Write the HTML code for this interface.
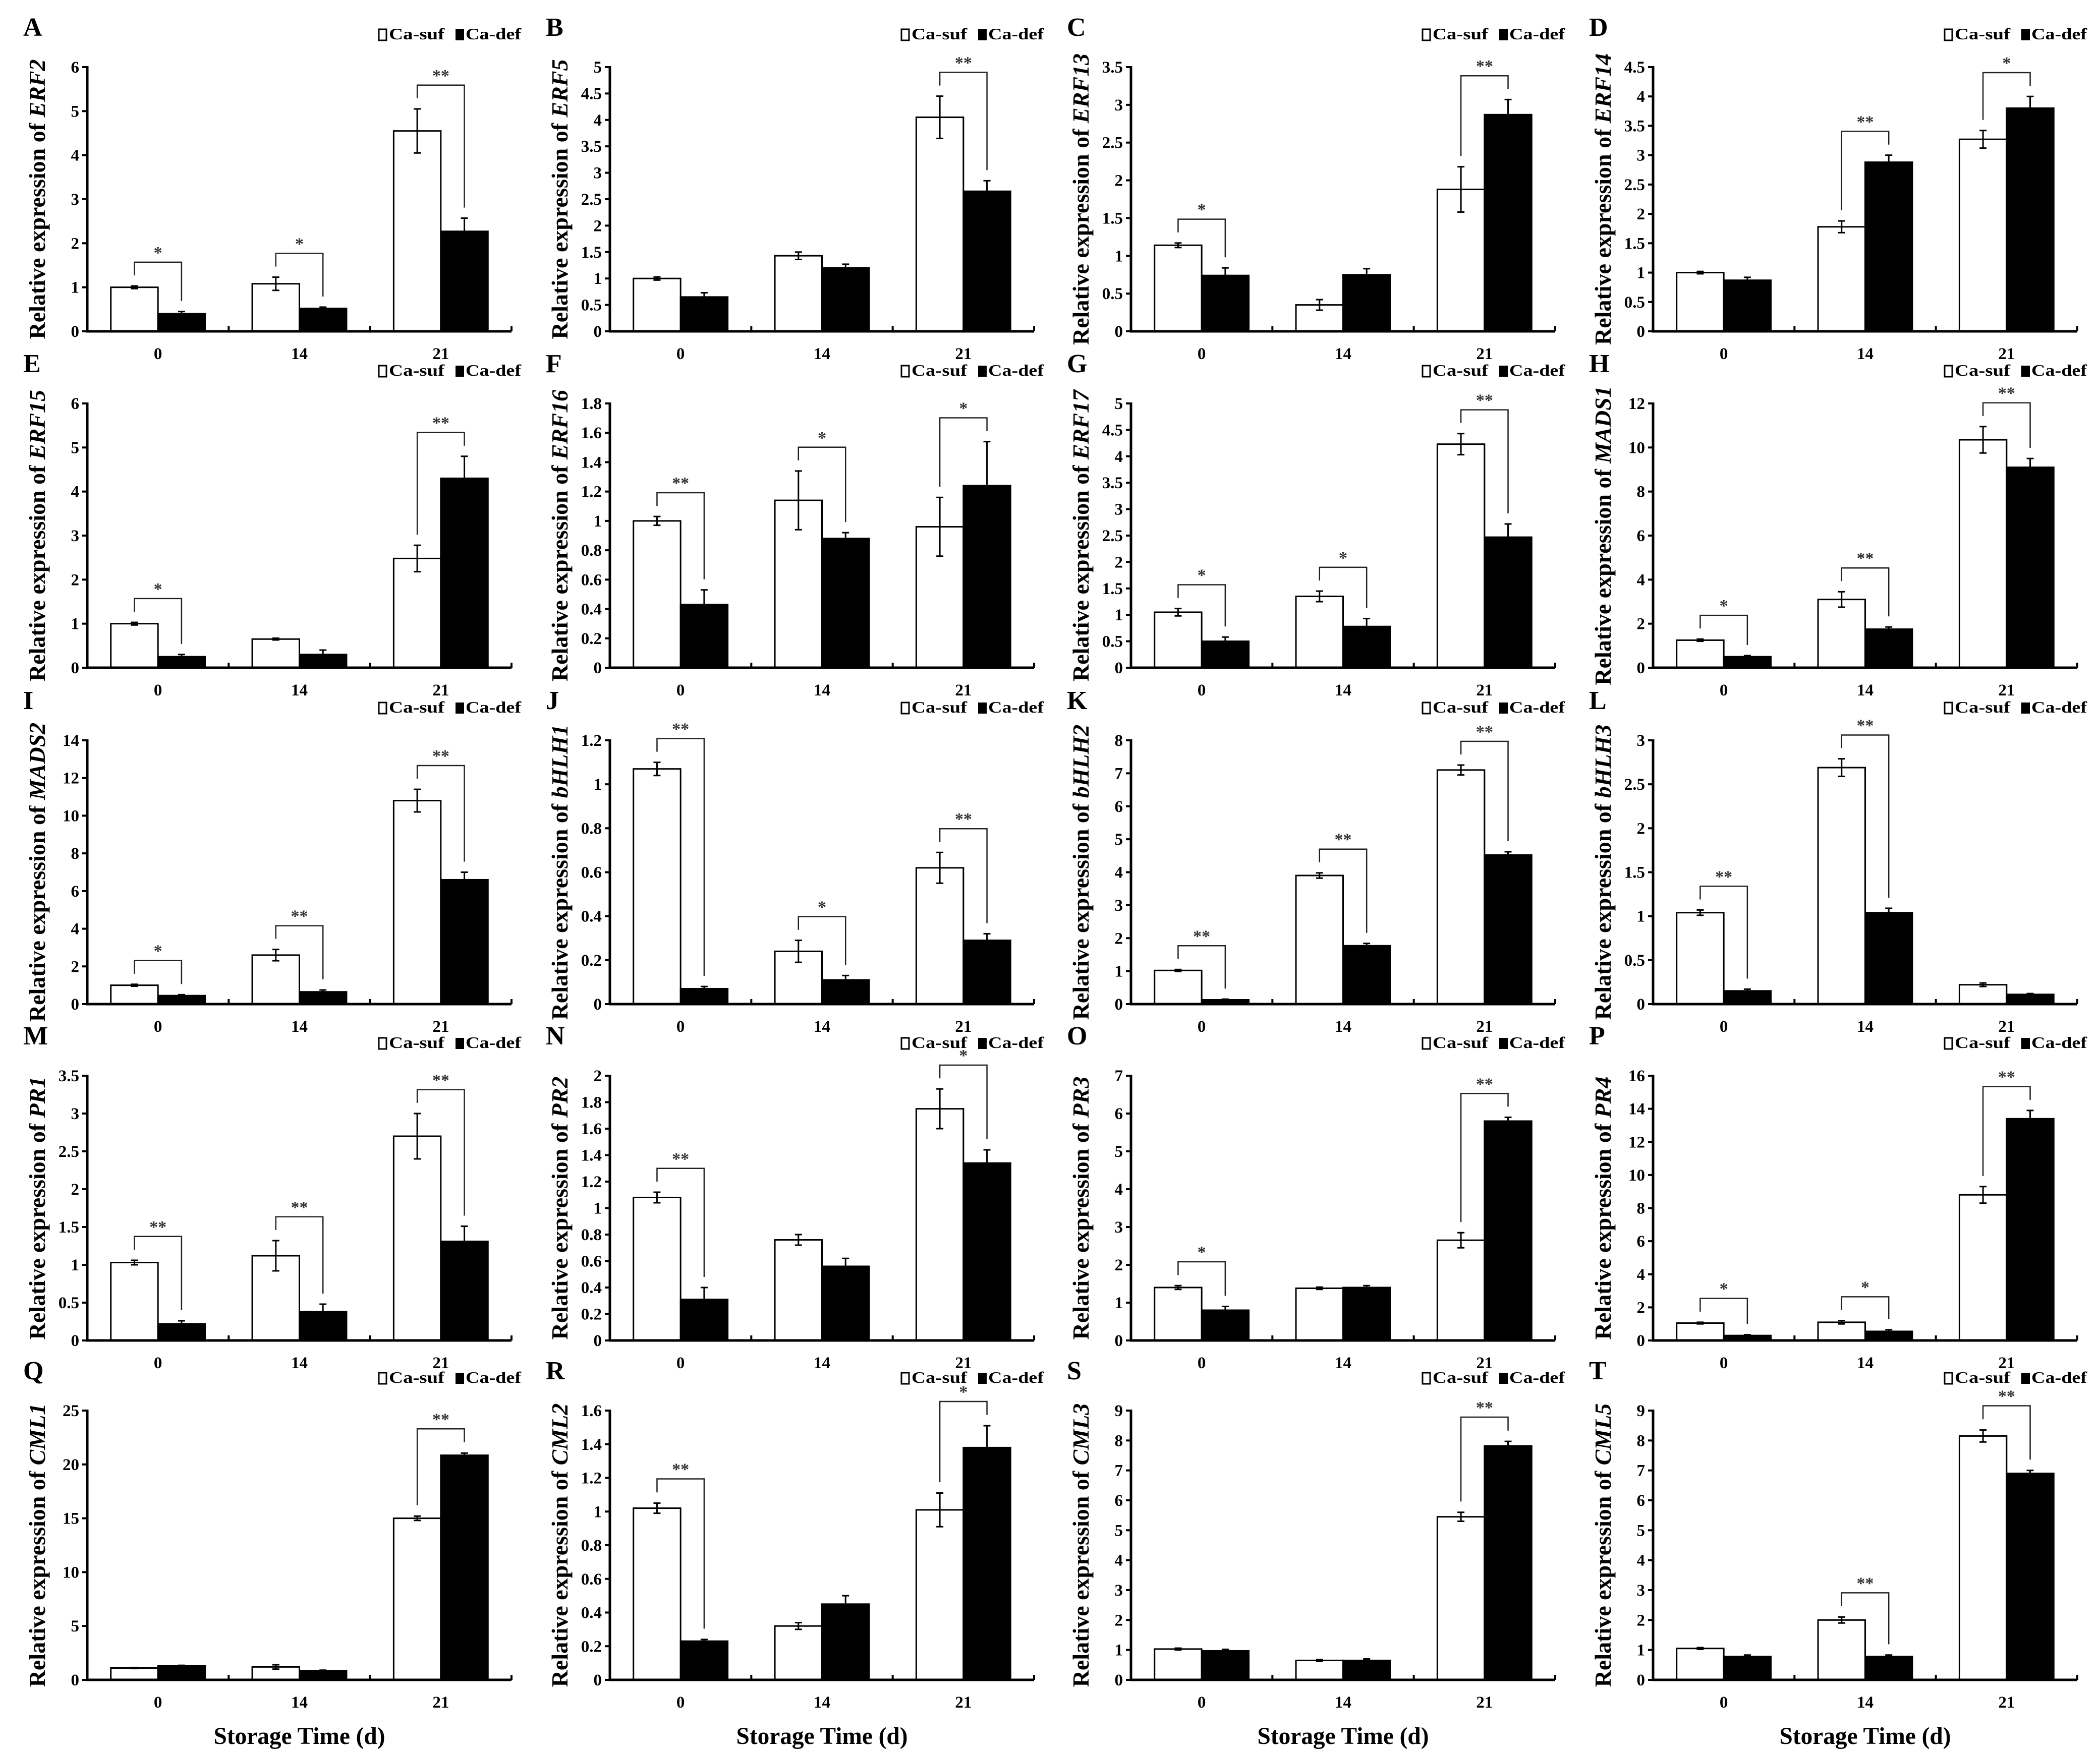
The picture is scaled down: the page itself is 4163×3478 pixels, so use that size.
<!DOCTYPE html>
<html><head><meta charset="utf-8"><style>
html,body{margin:0;padding:0;background:#fff;}
svg{display:block;font-family:"Liberation Serif",serif;font-weight:bold;}
</style></head><body>
<svg id="fig" width="4163" height="3478" viewBox="0 0 4163 3478" xmlns="http://www.w3.org/2000/svg"></svg>
<script>
const categories = ["0","14","21"];
const panelLetters = ["A","B","C","D","E","F","G","H","I","J","K","L","M","N","O","P","Q","R","S","T"];
const genes = ["ERF2","ERF5","ERF13","ERF14","ERF15","ERF16","ERF17","MADS1","MADS2","bHLH1","bHLH2","bHLH3","PR1","PR2","PR3","PR4","CML1","CML2","CML3","CML5"];
const yMax =  [6,5,3.5,4.5, 6,1.8,5,12, 14,1.2,8,3, 3.5,2,7,16, 25,1.6,9,9];
const yStep = [1,0.5,0.5,0.5, 1,0.2,0.5,2, 2,0.2,1,0.5, 0.5,0.2,1,2, 5,0.2,1,1];
const sufValues = [
 [1.0,1.08,4.55],[1.0,1.43,4.05],[1.14,0.35,1.88],[1.0,1.78,3.27],
 [1.0,0.65,2.48],[1.0,1.14,0.96],[1.05,1.35,4.23],[1.25,3.1,10.35],
 [1.0,2.6,10.8],[1.07,0.24,0.62],[1.02,3.9,7.1],[1.04,2.69,0.22],
 [1.03,1.12,2.7],[1.08,0.76,1.75],[1.4,1.38,2.65],[1.05,1.1,8.8],
 [1.1,1.2,15.0],[1.02,0.32,1.01],[1.03,0.65,5.45],[1.05,2.0,8.15]];
const sufErr = [
 [0.03,0.15,0.5],[0.03,0.07,0.4],[0.03,0.07,0.3],[0.02,0.1,0.15],
 [0.03,0.02,0.3],[0.03,0.2,0.2],[0.07,0.1,0.2],[0.05,0.35,0.6],
 [0.05,0.3,0.6],[0.03,0.05,0.07],[0.03,0.08,0.15],[0.03,0.1,0.02],
 [0.03,0.2,0.3],[0.04,0.04,0.15],[0.05,0.03,0.2],[0.05,0.1,0.5],
 [0.05,0.2,0.2],[0.03,0.02,0.1],[0.03,0.03,0.15],[0.03,0.1,0.2]];
const defValues = [
 [0.4,0.52,2.27],[0.65,1.2,2.65],[0.74,0.75,2.87],[0.87,2.88,3.8],
 [0.25,0.3,4.3],[0.43,0.88,1.24],[0.5,0.78,2.47],[0.5,1.75,9.1],
 [0.45,0.65,6.6],[0.07,0.11,0.29],[0.13,1.77,4.52],[0.15,1.04,0.11],
 [0.22,0.38,1.31],[0.31,0.56,1.34],[0.8,1.4,5.8],[0.3,0.55,13.4],
 [1.3,0.85,20.85],[0.23,0.45,1.38],[0.97,0.65,7.82],[0.78,0.78,6.9]];
const defErr = [
 [0.05,0.03,0.3],[0.08,0.07,0.2],[0.1,0.08,0.2],[0.05,0.12,0.2],
 [0.05,0.1,0.5],[0.1,0.04,0.3],[0.08,0.15,0.25],[0.05,0.1,0.4],
 [0.05,0.1,0.4],[0.01,0.02,0.03],[0.02,0.07,0.1],[0.02,0.05,0.01],
 [0.04,0.1,0.2],[0.09,0.06,0.1],[0.1,0.05,0.1],[0.05,0.1,0.5],
 [0.05,0.05,0.2],[0.01,0.05,0.13],[0.05,0.05,0.15],[0.05,0.05,0.1]];
const sigLabels = [
 ["*","*","**"],["","","**"],["*","","**"],["","**","*"],
 ["*","","**"],["**","*","*"],["*","*","**"],["*","**","**"],
 ["*","**","**"],["**","*","**"],["**","**","**"],["**","**",""],
 ["**","**","**"],["**","","*"],["*","","**"],["*","*","**"],
 ["","","**"],["**","","*"],["","","**"],["","**","**"]];

const NS="http://www.w3.org/2000/svg";
const svg=document.getElementById('fig');
function mk(tag,attrs,parent,text){const e=document.createElementNS(NS,tag);for(const k in attrs)e.setAttribute(k,attrs[k]);if(text!==undefined)e.textContent=text;(parent||svg).appendChild(e);return e;}
const colX=[173,1209,2242,3277];
const rowTop=[133,800,1468,2133,2797];
const rowZero=[657,1324,1991,2658,3331];
const W=841;
function fmt(v){return String(+v.toFixed(2));}

for(let p=0;p<20;p++){
  const c=p%4,r=Math.floor(p/4);
  const x0=colX[c],top=rowTop[r],zero=rowZero[r],H=zero-top;
  const g=mk('g',{});
  
  
  const ys=v=>zero-v/yMax[p]*H;
  const catW=W/3;
  const xc=i=>x0+catW*(i+0.5);
  const bw=catW/3;
  const lt=mk('text',{x:x0-127,y:top-62,'font-size':52},g,panelLetters[p]);
  
  
  const lg=mk('g',{},g);
  
  
  const ly=top-55;
  mk('rect',{x:x0+578,y:ly-20,width:15,height:22,fill:'#fff',stroke:'#000','stroke-width':3},lg);
  mk('text',{x:x0+598,y:ly,'font-size':32,textLength:110,lengthAdjust:'spacingAndGlyphs'},lg,'Ca-suf');
  mk('rect',{x:x0+730,y:ly-20,width:17,height:22,fill:'#000'},lg);
  mk('text',{x:x0+750,y:ly,'font-size':32,textLength:110,lengthAdjust:'spacingAndGlyphs'},lg,'Ca-def');
  const yt=mk('text',{x:0,y:0,'font-size':46,'text-anchor':'middle',transform:`translate(${x0-84},${(top+zero)/2}) rotate(-90)`},g);
  
  
  mk('tspan',{},yt,'Relative expression of ');
  mk('tspan',{'font-style':'italic'},yt,genes[p]);
  const n=Math.round(yMax[p]/yStep[p]);
  for(let k=0;k<=n;k++){
    const v=k*yStep[p],y=ys(v);
    mk('line',{x1:x0-10,x2:x0,y1:y,y2:y,stroke:'#000','stroke-width':4},g);
    const t=mk('text',{x:x0-16,y:y+11,'font-size':33,'text-anchor':'end'},g,fmt(v));
    
    
  }
  for(let i=0;i<3;i++){
    const cx=xc(i);
    const s=sufValues[p][i],d=defValues[p][i];
    const b1=mk('rect',{x:cx-bw,y:ys(s),width:bw,height:zero-ys(s),fill:'#fff',stroke:'#000','stroke-width':3},g);
    
    
    const b2=mk('rect',{x:cx,y:ys(d),width:bw,height:zero-ys(d),fill:'#000',stroke:'#000','stroke-width':3},g);
    
    
    [[cx-bw/2,s,sufErr[p][i]],[cx+bw/2,d,defErr[p][i]]].forEach(([ex,v,e])=>{
      mk('line',{x1:ex,x2:ex,y1:ys(v-e),y2:ys(v+e),stroke:'#000','stroke-width':3},g);
      mk('line',{x1:ex-7,x2:ex+7,y1:ys(v-e),y2:ys(v-e),stroke:'#000','stroke-width':3},g);
      mk('line',{x1:ex-7,x2:ex+7,y1:ys(v+e),y2:ys(v+e),stroke:'#000','stroke-width':3},g);
    });
    const sg=sigLabels[p][i];
    if(sg){
      const t1=s+sufErr[p][i],t2=d+defErr[p][i];
      const gap=0.04*yMax[p];
      const by=ys(Math.max(t1,t2)+0.09*yMax[p]);
      const la=cx-bw/2,ra=cx+bw/2;
      mk('polyline',{points:`${la},${ys(t1+gap)} ${la},${by} ${ra},${by} ${ra},${ys(t2+gap)}`,fill:'none',stroke:'#222','stroke-width':2.5},g);
      const st=mk('text',{x:cx,y:by-8,'font-size':34,'text-anchor':'middle',fill:'#333'},g,sg);
      
      
    }
    const cl=mk('text',{x:cx,y:zero+55,'font-size':33,'text-anchor':'middle'},g,categories[i]);
    
    
  }
  for(let i=1;i<=3;i++){
    const tx=x0+catW*i;
    mk('line',{x1:tx,x2:tx,y1:zero-10,y2:zero,stroke:'#000','stroke-width':4},g);
  }
  const ya=mk('line',{x1:x0,x2:x0,y1:top-2,y2:zero+2,stroke:'#000','stroke-width':5},g);
  
  
  const xa=mk('line',{x1:x0-2,x2:x0+W,y1:zero,y2:zero,stroke:'#000','stroke-width':5},g);
  
  
  if(r===4){
    const xt=mk('text',{x:x0+W/2,y:3458,'font-size':48,'text-anchor':'middle',textLength:340,lengthAdjust:'spacingAndGlyphs'},g,'Storage Time (d)');
    
    
  }
}
</script>
</body></html>
